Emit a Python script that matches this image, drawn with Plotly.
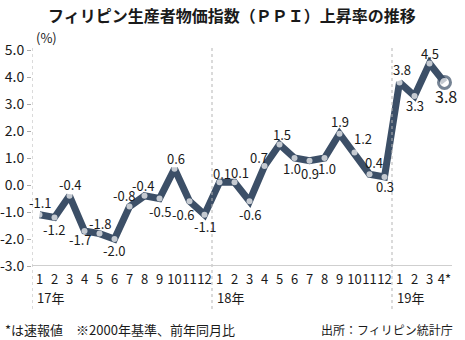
import plotly.graph_objects as go

months = ["1","2","3","4","5","6","7","8","9","10","11","12",
          "1","2","3","4","5","6","7","8","9","10","11","12",
          "1","2","3","4*"]
values = [-1.1, -1.2, -0.4, -1.7, -1.8, -2.0, -0.8, -0.4, -0.5, 0.6, -0.6, -1.1,
          0.1, 0.1, -0.6, 0.7, 1.5, 1.0, 0.9, 1.0, 1.9, 1.2, 0.4, 0.3,
          3.8, 3.3, 4.5, 3.8]
years = ["17年", "18年", "19年"]
year_start = [0, 12, 24]
yticks = [5.0, 4.0, 3.0, 2.0, 1.0, 0.0, -1.0, -2.0, -3.0]

# label offsets in pixels (dx, dy; dy positive = up)
label_offsets = [(1, 12), (0, -12), (1, 11), (-4, -9), (1, 10), (0, -11),
                 (-5, 11), (-1, 10), (1, -13), (1, 10), (-6, -13), (1, -12),
                 (2, 9), (5, 10), (1, -13), (-6, 9), (2, 10), (-3, -10),
                 (0, -13), (2, -10), (0, 12), (8, 14), (4, 12), (0, -10),
                 (2, 13), (0, -10), (0, 10), (1, -14)]

FONT = "Noto Sans CJK JP, Noto Sans, sans-serif"
LINE = "#3c4f67"
TXT = "#1a1a1a"
L, R, T, B = 32, 13, 50, 74
W, H = 465, 340
PW, PH = W - L - R, H - T - B
x = list(range(len(values)))
n = len(values)


def px_x(p):
    return (p - L) / PW


def px_y(p):
    return (H - B - p) / PH


fig = go.Figure()
fig.add_trace(go.Scatter(
    x=x, y=values, mode="lines+markers",
    line=dict(color=LINE, width=7),
    marker=dict(size=[6]*(n-1) + [12], color="white",
                line=dict(color=LINE, width=[0]*(n-1) + [3])),
    hoverinfo="skip", showlegend=False, cliponaxis=False))

annotations = []
for i, v in enumerate(values):
    dx, dy = label_offsets[i]
    annotations.append(dict(x=i, y=v, xref="x", yref="y", text=f"{v:.1f}",
                            showarrow=False, xanchor="center", yanchor="middle",
                            xshift=dx, yshift=dy,
                            font=dict(family=FONT, size=16 if i == n-1 else 13, color=TXT)))

for yl, s in zip(years, year_start):
    annotations.append(dict(x=s-0.5, y=px_y(297), xref="x", yref="paper", text=yl,
                            showarrow=False, xanchor="left", yanchor="middle", xshift=3,
                            font=dict(family=FONT, size=13, color=TXT)))

paper_texts = [
    (px_x(232), px_y(15), "<b>フィリピン生産者物価指数（ＰＰＩ）上昇率の推移</b>", "center", 16),
    (px_x(34), px_y(38), "(%)", "left", 13),
    (px_x(3), px_y(329), "*は速報値　※2000年基準、前年同月比", "left", 13),
    (px_x(455), px_y(329), "出所：フィリピン統計庁", "right", 12),
]
for px_, py_, t, xa, sz in paper_texts:
    annotations.append(dict(x=px_, y=py_, xref="paper", yref="paper", text=t,
                            showarrow=False, xanchor=xa, yanchor="middle",
                            font=dict(family=FONT, size=sz, color=TXT)))

shapes = []
for s in year_start:
    shapes.append(dict(type="line", xref="x", yref="paper", x0=s-0.5, x1=s-0.5,
                       y0=px_y(309), y1=px_y(46), line=dict(color="#b5b5b5", width=1, dash="dot")))
shapes.append(dict(type="line", xref="paper", yref="y", x0=0, x1=1, y0=-3, y1=-3,
                   line=dict(color="#cfcfcf", width=2)))

fig.update_layout(
    width=W, height=H,
    margin=dict(l=L, r=R, t=T, b=B, autoexpand=False),
    paper_bgcolor="white", plot_bgcolor="white",
    font=dict(family=FONT, size=12, color=TXT),
    annotations=annotations, shapes=shapes,
    xaxis=dict(range=[-0.5, n-0.5], tickvals=x, ticktext=months, tickangle=0,
               showgrid=False, zeroline=False, showline=False, ticks="",
               ticklabelstandoff=4,
               automargin=False, fixedrange=True, tickfont=dict(size=13, color=TXT)),
    yaxis=dict(range=[-3, 5], tickvals=yticks, ticktext=[f"{v:.1f}" for v in yticks],
               showgrid=False, zeroline=False, showline=False,
               ticks="outside", ticklen=4, tickcolor="#aaaaaa",
               automargin=False, fixedrange=True, tickfont=dict(size=14, color=TXT)),
)
fig.write_html("out.html")
